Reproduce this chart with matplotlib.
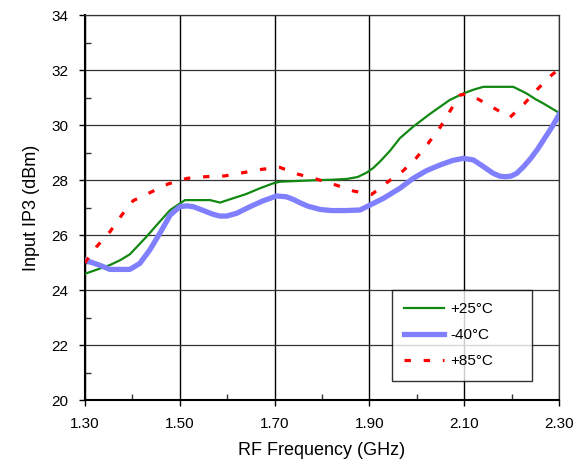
import matplotlib
matplotlib.use("Agg")
import matplotlib.pyplot as plt
from matplotlib.ticker import MultipleLocator

plt.rcParams['font.family'] = ['Liberation Sans', 'DejaVu Sans']

# +25 C
x_25 = [1.30, 1.33, 1.353, 1.375, 1.395, 1.43, 1.458, 1.48, 1.511, 1.564, 1.585, 1.606, 1.64,
        1.669, 1.697, 1.711, 1.796, 1.82, 1.852, 1.875, 1.894, 1.908, 1.922, 1.943, 1.964, 1.992,
        2.027, 2.069, 2.098, 2.12, 2.14, 2.203, 2.231, 2.25, 2.266, 2.30]
y_25 = [24.6, 24.78, 24.92, 25.1, 25.31, 25.95, 26.5, 26.92, 27.28, 27.28, 27.19, 27.31, 27.5,
        27.71, 27.89, 27.95, 28.01, 28.02, 28.05, 28.12, 28.28, 28.45, 28.68, 29.07, 29.53, 29.95,
        30.41, 30.92, 31.16, 31.3, 31.4, 31.4, 31.16, 30.95, 30.8, 30.45]

# -40 C
x_m40 = [1.30, 1.33, 1.353, 1.395, 1.416, 1.437, 1.458, 1.48, 1.50, 1.515, 1.529, 1.55, 1.571,
         1.585, 1.599, 1.62, 1.648, 1.675, 1.704, 1.725, 1.74, 1.754, 1.77, 1.796, 1.82, 1.85,
         1.88, 1.908, 1.93, 1.964, 1.992, 2.02, 2.049, 2.075, 2.098, 2.119, 2.14, 2.161, 2.175,
         2.186, 2.198, 2.21, 2.225, 2.24, 2.255, 2.27, 2.285, 2.30]
y_m40 = [25.1, 24.92, 24.76, 24.76, 24.98, 25.47, 26.07, 26.74, 27.04, 27.07, 27.04, 26.9, 26.76,
         26.7, 26.7, 26.8, 27.04, 27.25, 27.43, 27.4, 27.3, 27.18, 27.06, 26.94, 26.9, 26.9,
         26.92, 27.16, 27.35, 27.71, 28.07, 28.35, 28.56, 28.72, 28.8, 28.74, 28.5, 28.25, 28.15,
         28.13, 28.15, 28.25, 28.5, 28.8, 29.15, 29.55, 29.95, 30.4]

# +85 C
x_85 = [1.30, 1.325, 1.353, 1.378, 1.402, 1.437, 1.476, 1.515, 1.553, 1.595, 1.634, 1.673, 1.711,
        1.75, 1.789, 1.829, 1.866, 1.905, 1.936, 1.971, 1.999, 2.024, 2.049, 2.07, 2.091, 2.105,
        2.126, 2.161, 2.196, 2.224, 2.252, 2.284, 2.30]
y_85 = [25.0, 25.59, 26.13, 26.74, 27.26, 27.55, 27.87, 28.07, 28.13, 28.16, 28.28, 28.4, 28.47,
        28.22, 28.04, 27.83, 27.61, 27.49, 27.91, 28.35, 28.82, 29.35, 29.93, 30.53, 31.1, 31.15,
        30.98, 30.64, 30.29, 30.74, 31.28, 31.83, 32.05]

x_ticks = [1.30, 1.50, 1.70, 1.90, 2.10, 2.30]
x_tick_labels = ["1.30", "1.50", "1.70", "1.90", "2.10", "2.30"]
y_ticks = [20, 22, 24, 26, 28, 30, 32, 34]

fig = plt.figure(figsize=(5.83, 4.70), dpi=100)
ax = fig.add_axes([0.1455, 0.1483, 0.8138, 0.8191])

ax.plot(x_25, y_25, color='#118811', lw=1.6, label='+25°C', zorder=3)
ax.plot(x_m40, y_m40, color='#8080FF', lw=3.8, label='-40°C', zorder=3)
ax.plot(x_85, y_85, color='#FF0000', lw=2.3, dashes=(2, 4), label='+85°C', zorder=4)

ax.set_xlim(1.30, 2.30)
ax.set_ylim(20, 34)
ax.set_xticks(x_ticks)
ax.set_xticklabels(x_tick_labels)
ax.set_yticks(y_ticks)
ax.xaxis.set_minor_locator(MultipleLocator(0.1))
ax.yaxis.set_minor_locator(MultipleLocator(1))
ax.tick_params(which='major', direction='out', length=4, width=1, labelsize=11, colors='black', pad=8)
ax.tick_params(which='minor', direction='in', length=4, width=1, colors='#333333')

ax.grid(axis='x', which='major', color='black', lw=1.0)
ax.grid(axis='y', which='major', color='#333333', lw=0.9)
ax.set_axisbelow(True)

for s in ['top', 'right']:
    ax.spines[s].set_color('#333333')
    ax.spines[s].set_linewidth(0.9)
for s in ['left', 'bottom']:
    ax.spines[s].set_color('black')
    ax.spines[s].set_linewidth(1.5)

ax.set_xlabel('RF Frequency (GHz)', fontsize=13, labelpad=8)
ax.set_ylabel('Input IP3 (dBm)', fontsize=13, labelpad=8)

leg = ax.legend(loc='lower left', bbox_to_anchor=(0.648, 0.051, 0.294, 0.2225), mode='expand',
                fontsize=11, frameon=True, fancybox=False, handlelength=2.6,
                labelspacing=0.8, borderpad=0.8, handletextpad=0.4, borderaxespad=0)
leg.get_frame().set_edgecolor('black')
leg.get_frame().set_linewidth(1.0)

fig.savefig('out.png', dpi=100)
